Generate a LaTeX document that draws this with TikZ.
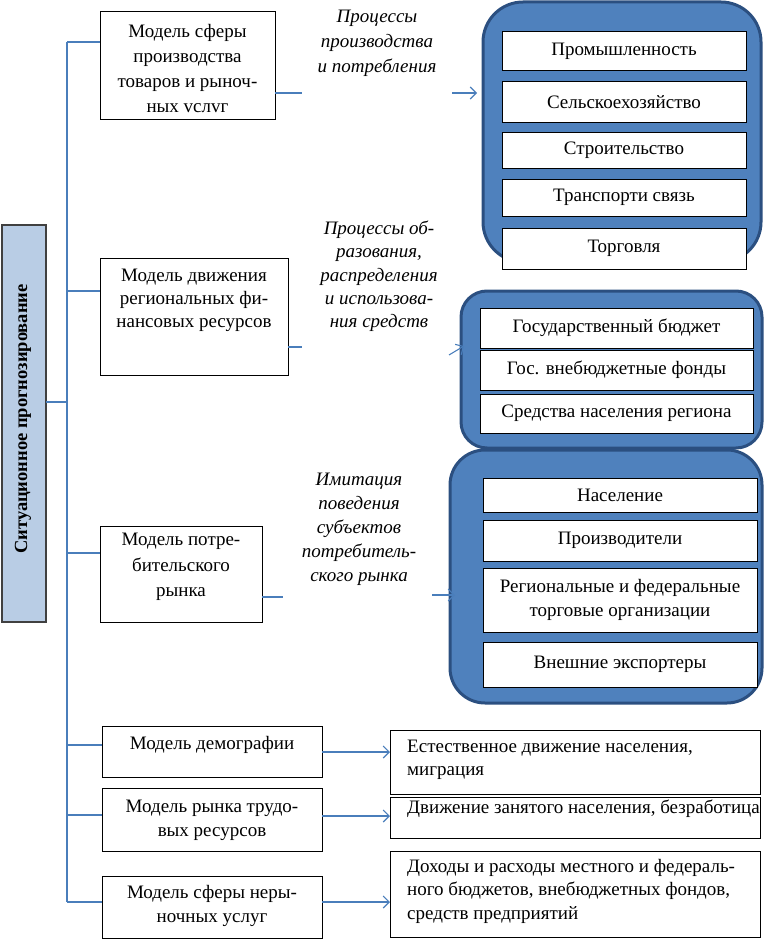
\documentclass[tikz,border=0pt]{standalone}
\usepackage{fontspec}
\setmainfont{Liberation Serif}
\usetikzlibrary{arrows.meta,fit}
\definecolor{connc}{HTML}{4A7EBB}
\definecolor{cfill}{HTML}{4F81BD}
\definecolor{cborder}{HTML}{2B4F80}
\definecolor{sidefill}{HTML}{B9CDE5}
\tikzset{
  box/.style={draw=black, line width=1pt, fill=white, inner sep=0pt, outer sep=0pt},
  sidebox/.style={draw=black!75, line width=1.2pt, fill=sidefill, inner sep=0pt, outer sep=0pt},
  cont/.style={draw=cborder, fill=cfill, line width=3pt, inner sep=0pt, outer sep=0pt},
  txt/.style={align=center, inner sep=0pt, font=\fontsize{19}{24}\selectfont},
  ltxt/.style={align=left, inner sep=0pt, anchor=west, font=\fontsize{19}{23.5}\selectfont},
  itxt/.style={align=center, inner sep=0pt, font=\fontsize{19}{24}\selectfont\itshape},
  conn/.style={draw=connc, line width=1.1pt},
  arr/.style={conn, -{Straight Barb[length=6pt,width=12pt]}},
}
\begin{document}
\begin{tikzpicture}[x=1pt,y=-1pt]
\useasboundingbox (0,0) rectangle (765,939);
% side box
\node[sidebox, fit={(2,225) (46,622)}] (side) {};
\node[txt, rotate=90, font=\fontsize{18.5}{24}\selectfont\bfseries] at (23,419) {Ситуационное прогнозирование};
% containers
\node[cont, rounded corners=40pt, fit={(483,2) (761,262)}] (c1) {};
\node[cont, rounded corners=35pt, fit={(450,450) (762,703)}] (c3) {};
\node[cont, rounded corners=26pt, fit={(461,291) (762,448)}] (c2) {};
% container 1 items
\node[box, fit={(502,32) (746,71)}] (p1) {};
\node[txt] at (p1.center) {Промышленность};
\node[box, fit={(502,82) (746,123)}] (p2) {};
\node[txt] at (p2.center) {Сельскоехозяйство};
\node[box, fit={(502,133) (746,168)}] (p3) {};
\node[txt] at (p3.center) {Строительство};
\node[box, fit={(502,179) (746,216)}] (p4) {};
\node[txt] at (p4.center) {Транспорти связь};
\node[box, fit={(502,228) (746,269)}] (p5) {};
\node[txt] at (p5.center) {Торговля};
% container 2 items
\node[box, fit={(480,308) (753,348)}] (f1) {};
\node[txt] at (f1.center) {Государственный бюджет};
\node[box, fit={(480,350) (753,390)}] (f2) {};
\node[txt] at (f2.center) {Гос. внебюджетные фонды};
\node[box, fit={(480,394) (753,433)}] (f3) {};
\node[txt] at (f3.center) {Средства населения региона};
% container 3 items
\node[box, fit={(483,478) (757,512)}] (s1) {};
\node[txt] at (s1.center) {Население};
\node[box, fit={(483,520) (757,561)}] (s2) {};
\node[txt] at (s2.center) {Производители};
\node[box, fit={(483,568) (757,632)}] (s3) {};
\node[txt] at (s3.center) {Региональные и федеральные\\торговые организации};
\node[box, fit={(483,642) (757,687)}] (s4) {};
\node[txt] at (s4.center) {Внешние экспортеры};
% model boxes
\node[box, fit={(100,12) (275,120)}] (m1) {};
\node[txt, font=\fontsize{19}{25}\selectfont] at (187.5,68.5) {Модель сферы\\производства\\товаров и рыноч-\\ных vслvг};
\node[box, fit={(100,258) (288,375)}] (m2) {};
\node[txt, font=\fontsize{19}{23}\selectfont] at (194,300) {Модель движения\\региональных фи-\\нансовых ресурсов};
\node[box, fit={(100,526) (262,622)}] (m3) {};
\node[txt, font=\fontsize{19}{25.5}\selectfont] at (181,567) {Модель потре-\\бительского\\рынка};
\node[box, fit={(102,726) (322,777)}] (m4) {};
\node[txt] at (212,745) {Модель демографии};
\node[box, fit={(102,788) (322,851)}] (m5) {};
\node[txt] at (212,820) {Модель рынка трудо-\\вых ресурсов};
\node[box, fit={(102,876) (322,938)}] (m6) {};
\node[txt] at (212,906) {Модель сферы неры-\\ночных услуг};
% right boxes
\node[box, fit={(390,730) (760,794)}] (r1) {};
\node[ltxt] at (407,760) {Естественное движение населения,\\миграция};
\node[box, fit={(390,797) (760,838)}] (r2) {};
\node[ltxt] at (407,809) {Движение занятого населения, безработица};
\node[box, fit={(390,851) (760,937)}] (r3) {};
\node[ltxt] at (407,891) {Доходы и расходы местного и федераль-\\ного бюджетов, внебюджетных фондов,\\средств предприятий};
% italic labels
\node[itxt, font=\fontsize{19}{25}\selectfont\itshape] at (377,43) {Процессы\\производства\\и потребления};
\node[itxt, font=\fontsize{19}{23.3}\selectfont\itshape] at (379,276.5) {Процессы об-\\разования,\\распределения\\и использова-\\ния средств};
\node[itxt] at (359,529.5) {Имитация\\поведения\\субъектов\\потребитель-\\ского рынка};
% trunk
\coordinate (ttop) at (67,42);
\coordinate (tbot) at (67,902);
\draw[conn] (ttop) -- (tbot);
\draw[conn] (side.east |- 0,402) -- (67,402);
\draw[conn] (ttop) -- (m1.west |- ttop);
\draw[conn] (67,291) -- (m2.west |- 0,291);
\draw[conn] (67,553) -- (m3.west |- 0,553);
\draw[conn] (67,745) -- (m4.west |- 0,745);
\draw[conn] (67,815) -- (m5.west |- 0,815);
\draw[conn] (tbot) -- (m6.west |- tbot);
% outgoing connectors
\coordinate (a1e) at (302,93);
\coordinate (a1s) at (452,93);
\coordinate (a1t) at (477,93);
\draw[conn] (m1.east |- a1e) -- (a1e);
\draw[arr] (a1s) -- (a1t);
\coordinate (a2e) at (302,347);
\coordinate (a2s) at (449,355);
\coordinate (a2t) at (464,346);
\draw[conn] (m2.east |- a2e) -- (a2e);
\draw[arr] (a2s) -- (a2t);
\coordinate (a3e) at (283,597);
\coordinate (a3s) at (432,595);
\coordinate (a3t) at (455,595);
\draw[conn] (m3.east |- a3e) -- (a3e);
\draw[arr] (a3s) -- (a3t);
\draw[arr] (m4.east |- 0,752) -- (r1.west |- 0,752);
\draw[arr] (m5.east |- 0,816) -- (r2.west |- 0,816);
\draw[arr] (m6.east |- 0,902) -- (r3.west |- 0,902);
\end{tikzpicture}
\end{document}
